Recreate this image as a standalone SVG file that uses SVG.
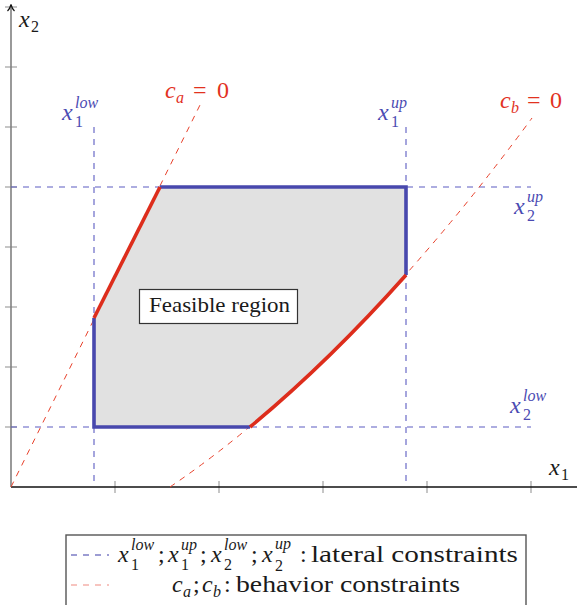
<svg xmlns="http://www.w3.org/2000/svg" width="577" height="605" viewBox="0 0 577 605" font-family="'Liberation Serif', 'DejaVu Serif', 'Times New Roman', Times, serif">
<style>
.m{font-family:'Liberation Serif','DejaVu Serif',serif;font-style:italic;font-size:24px}
.u{font-family:'Liberation Serif','DejaVu Serif',serif;font-style:normal;font-size:24px}
.sm{font-family:'Liberation Serif','DejaVu Serif',serif;font-style:italic;font-size:16px}
.su{font-family:'Liberation Serif','DejaVu Serif',serif;font-style:normal;font-size:16px}
.b{fill:#4a4ab2}
.r{fill:#e2321f}
.k{fill:#1a1a1a}
.dB{stroke:#5c5cc2;stroke-width:1.1;stroke-dasharray:6 6;fill:none}
.dR{stroke:#e8412b;stroke-width:1;stroke-dasharray:6 6;fill:none}
.tB{stroke:#4848ad;stroke-width:3.6;fill:none}
.tR{stroke:#dd2d1c;stroke-width:3.6;fill:none}
.tick{stroke:#a8a8a8;stroke-width:1.3}
</style>
<rect width="577" height="605" fill="#ffffff"/>

<g id="axes">
  <g class="tick">
    <line x1="5" y1="7" x2="17" y2="7"/>
    <line x1="5" y1="67" x2="17" y2="67"/>
    <line x1="5" y1="127" x2="17" y2="127"/>
    <line x1="5" y1="187" x2="17" y2="187"/>
    <line x1="5" y1="247" x2="17" y2="247"/>
    <line x1="5" y1="307" x2="17" y2="307"/>
    <line x1="5" y1="367" x2="17" y2="367"/>
    <line x1="5" y1="427" x2="17" y2="427"/>
    <line x1="115" y1="481" x2="115" y2="493"/>
    <line x1="219" y1="481" x2="219" y2="493"/>
    <line x1="323" y1="481" x2="323" y2="493"/>
    <line x1="427" y1="481" x2="427" y2="493"/>
    <line x1="531" y1="481" x2="531" y2="493"/>
  </g>
  <line x1="11" y1="487" x2="11" y2="5" stroke="#808080" stroke-width="1.6"/>
  <path d="M7.5,11 Q10,8.5 11,4.5 Q12,8.5 14.5,11" stroke="#111" stroke-width="1.2" fill="none"/>
  <line x1="11" y1="487" x2="577" y2="487" stroke="#111" stroke-width="1.4"/>
  <text class="m k" x="19" y="27">x</text><text class="su k" x="31" y="32">2</text>
  <text class="m k" x="549" y="475">x</text><text class="su k" x="561" y="480">1</text>
</g>

<g id="region">
  <path d="M94,427 L94,318 L160,187 L406,187 L406,275 Q328,362.5 250,427 Z" fill="#e1e1e1"/>
</g>

<g id="connectors">
  <path class="dB" d="M94,127 V487"/>
  <path class="dB" d="M406,127 V487"/>
  <path class="dB" d="M11,427 H531"/>
  <path class="dB" d="M11,187 H531"/>
  <path class="dR" d="M11,487 L200,105"/>
  <path class="dR" d="M170,487 Q351,363.7 532,118"/>
  <path class="tB" d="M94,318 V427 H250"/>
  <path class="tB" d="M160,187 H406 V275"/>
  <path class="tR" d="M94,318 L160,187"/>
  <path class="tR" d="M406,275 Q328,362.5 250,427"/>
</g>

<g id="label-x1low">
  <text class="m b" x="62" y="120">x</text>
  <text class="sm b" x="75" y="108">low</text>
  <text class="su b" x="75" y="127">1</text>
</g>
<g id="label-ca">
  <text class="m r" x="165" y="98">c</text>
  <text class="sm r" x="176" y="103">a</text>
  <text class="u r" x="193" y="98">=</text>
  <text class="u r" x="217" y="98">0</text>
</g>
<g id="label-x1up">
  <text class="m b" x="378" y="120">x</text>
  <text class="sm b" x="391" y="108">up</text>
  <text class="su b" x="391" y="127">1</text>
</g>
<g id="label-cb">
  <text class="m r" x="500" y="108">c</text>
  <text class="sm r" x="511" y="113">b</text>
  <text class="u r" x="527" y="108">=</text>
  <text class="u r" x="550" y="108">0</text>
</g>
<g id="label-x2up">
  <text class="m b" x="514" y="214">x</text>
  <text class="sm b" x="527" y="202">up</text>
  <text class="su b" x="527" y="221">2</text>
</g>
<g id="label-x2low">
  <text class="m b" x="510" y="413">x</text>
  <text class="sm b" x="523" y="401">low</text>
  <text class="su b" x="523" y="420">2</text>
</g>

<g id="feasible-region-label">
  <rect x="139.5" y="289.5" width="158" height="34" fill="#ffffff" stroke="#333333" stroke-width="1.2"/>
  <text class="u k" x="149" y="312" style="font-size:21px" textLength="141" lengthAdjust="spacingAndGlyphs">Feasible region</text>
</g>

<g id="legend">
  <rect x="66" y="535" width="460" height="80" fill="#ffffff" stroke="#555555" stroke-width="1.4"/>
  <line x1="71" y1="555" x2="109" y2="555" stroke="#3a3aa8" stroke-width="1.1" stroke-dasharray="6 6"/>
  <line x1="71" y1="585" x2="109" y2="585" stroke="#f08a80" stroke-width="1.1" stroke-dasharray="6 6"/>
  <g class="k">
    <text class="m" x="118" y="562">x</text><text class="sm" x="131" y="550">low</text><text class="su" x="131" y="570">1</text>
    <text class="u" x="158" y="562">;</text>
    <text class="m" x="168" y="562">x</text><text class="sm" x="181" y="550">up</text><text class="su" x="181" y="570">1</text>
    <text class="u" x="200" y="562">;</text>
    <text class="m" x="211" y="562">x</text><text class="sm" x="224" y="550">low</text><text class="su" x="224" y="570">2</text>
    <text class="u" x="251" y="562">;</text>
    <text class="m" x="262" y="562">x</text><text class="sm" x="275" y="549">up</text><text class="su" x="275" y="571">2</text>
    <text class="u" x="300" y="562">:</text>
    <text class="u" x="311" y="562" textLength="207" lengthAdjust="spacingAndGlyphs">lateral constraints</text>
    <text class="m" x="172" y="592">c</text><text class="sm" x="183" y="597">a</text>
    <text class="u" x="193" y="592">;</text>
    <text class="m" x="202" y="592">c</text><text class="sm" x="213" y="597">b</text>
    <text class="u" x="224" y="592">:</text>
    <text class="u" x="236" y="592" textLength="224" lengthAdjust="spacingAndGlyphs">behavior constraints</text>
  </g>
</g>
</svg>
